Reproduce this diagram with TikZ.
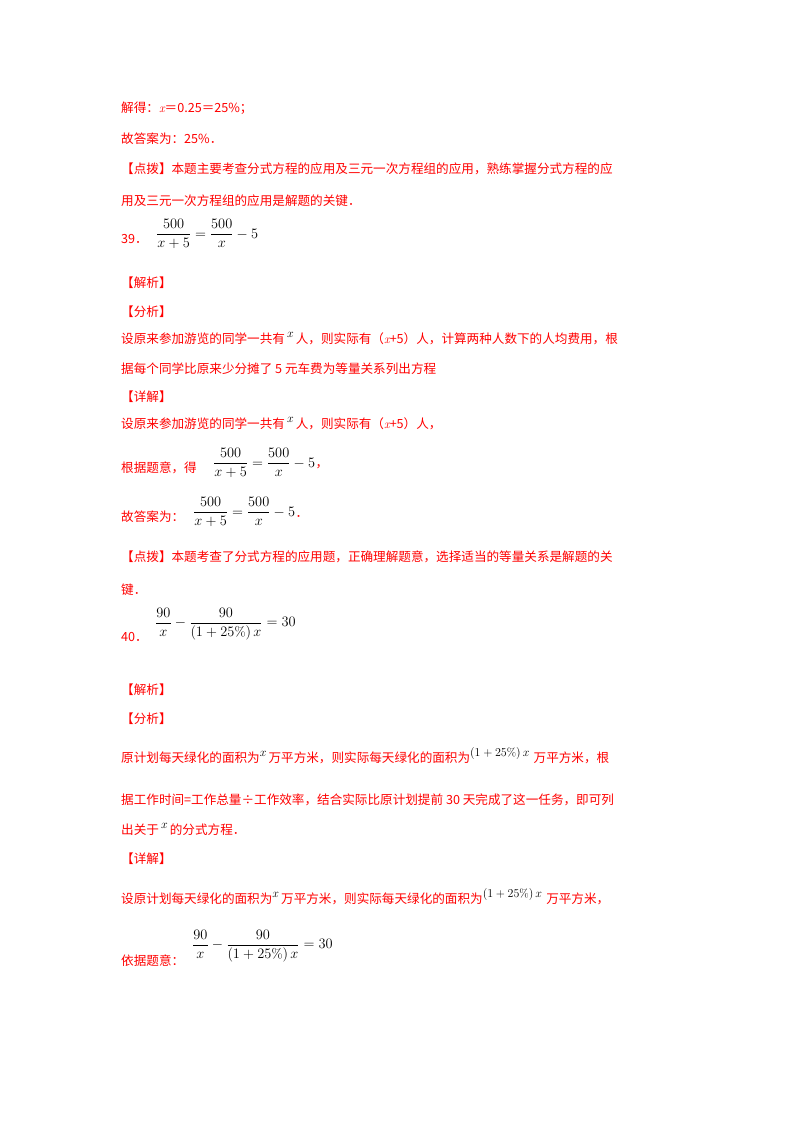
\documentclass[tikz,border=0pt]{standalone}
\usepackage{fontspec}
\usepackage{amsmath}
\newfontfamily\cjk{Noto Sans CJK SC}
\newcommand{\supm}[1]{\textcolor{black}{\fontsize{11.5}{12}\selectfont\raisebox{6pt}{$#1$}}}
\tikzset{
 t/.style={anchor=base west,inner sep=0pt,text=red,font=\cjk\fontsize{12.6}{14}\selectfont},
 m/.style={anchor=west,inner sep=0pt,text=black,font=\fontsize{13.5}{15}\selectfont},
}
\begin{document}
\begin{tikzpicture}[x=1pt,y=-1pt]
\useasboundingbox[fill=white] (0,0) rectangle (800,1132);
\node[t] (a1) at (121,112) {解得：{\rmfamily\itshape x}＝0.25＝25\%；};
\node[t] (a2) at (121,143) {故答案为：25\%．};
\node[t] (a3) at (121,173) {【点拨】本题主要考查分式方程的应用及三元一次方程组的应用，熟练掌握分式方程的应};
\node[t] (a4) at (121,205) {用及三元一次方程组的应用是解题的关键．};
\node[t] (a5) at (121,243) {39．};
\node[m] (f1) at (156,234) {$\dfrac{500}{x+5}=\dfrac{500}{x}-5$};
\node[t] (a6) at (121,287) {【解析】};
\node[t] (a7) at (121,316) {【分析】};
\node[t] (a8) at (121,343) {设原来参加游览的同学一共有\,\supm{x}\,人，则实际有（{\rmfamily\itshape x}+5）人，计算两种人数下的人均费用，根};
\node[t] (a9) at (121,373) {据每个同学比原来少分摊了 5 元车费为等量关系列出方程};
\node[t] (a10) at (121,401) {【详解】};
\node[t] (a11) at (121,428) {设原来参加游览的同学一共有\,\supm{x}\,人，则实际有（{\rmfamily\itshape x}+5）人，};
\node[t] (a12) at (121,472) {根据题意，得};
\node[m] (f2) at (213,463) {$\dfrac{500}{x+5}=\dfrac{500}{x}-5$};
\node[t] (a12b) at (f2.east) [anchor=west,yshift=-4] {，};
\node[t] (a13) at (121,521) {故答案为：};
\node[m] (f3) at (193,512) {$\dfrac{500}{x+5}=\dfrac{500}{x}-5$};
\node[t] (a13b) at (f3.east) [anchor=west,yshift=-4] {．};
\node[t] (a14) at (121,561) {【点拨】本题考查了分式方程的应用题，正确理解题意，选择适当的等量关系是解题的关};
\node[t] (a15) at (121,594) {键．};
\node[t] (a16) at (121,641) {40．};
\node[m] (f4) at (155,624) {$\dfrac{90}{x}-\dfrac{90}{\left(1+25\%\right)x}=30$};
\node[t] (a17) at (121,694) {【解析】};
\node[t] (a18) at (121,723) {【分析】};
\node[t] (a19) at (121,762) {原计划每天绿化的面积为\supm{x}\,万平方米，则实际每天绿化的面积为\supm{\left(1+25\%\right)x}\,\,万平方米，根};
\node[t] (a20) at (121,804) {据工作时间=工作总量÷工作效率，结合实际比原计划提前 30 天完成了这一任务，即可列};
\node[t] (a21) at (121,834) {出关于\,\supm{x}\,的分式方程．};
\node[t] (a22) at (121,863) {【详解】};
\node[t] (a23) at (121,903) {设原计划每天绿化的面积为\supm{x}\,万平方米，则实际每天绿化的面积为\supm{\left(1+25\%\right)x}\,\,万平方米，};
\node[t] (a24) at (121,965) {依据题意：};
\node[m] (f5) at (192,946) {$\dfrac{90}{x}-\dfrac{90}{\left(1+25\%\right)x}=30$};
\end{tikzpicture}
\end{document}
